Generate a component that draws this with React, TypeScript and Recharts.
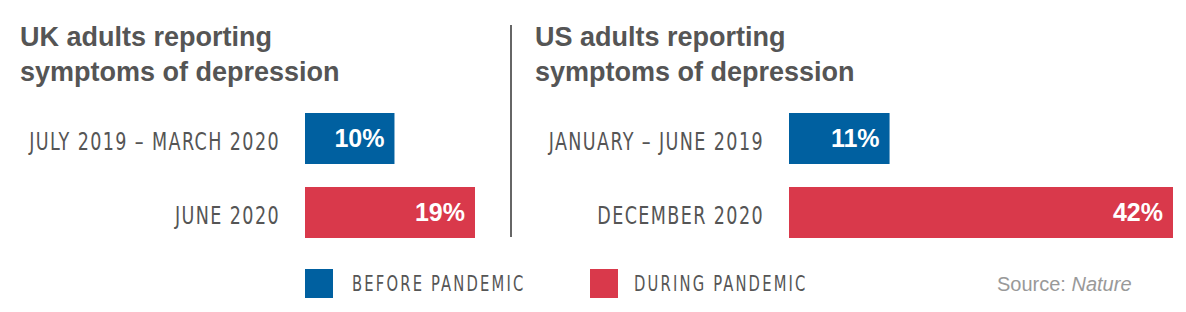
import { BarChart, Bar, XAxis, YAxis, Cell, LabelList } from 'recharts';

const ukPeriods = ['JULY 2019 – MARCH 2020', 'JUNE 2020'];
const ukValues = [10, 19];
const usPeriods = ['JANUARY – JUNE 2019', 'DECEMBER 2020'];
const usValues = [11, 42];
const phases = ['BEFORE PANDEMIC', 'DURING PANDEMIC'];

const PHASE_COLORS = ['#0060a0', '#d9394b'];
const TEXT = '#555555';
const NARROW = "'Liberation Sans Narrow', 'DejaVu Sans Condensed', sans-serif";
const SANS = "'Liberation Sans', Arial, sans-serif";
// no narrow display face installed, so squeeze the condensed one horizontally
const SQUEEZE = 0.78;

const ukData = ukPeriods.map((period, i) => ({ period, value: ukValues[i], phase: i }));
const usData = usPeriods.map((period, i) => ({ period, value: usValues[i], phase: i }));

function PeriodTick(props: any) {
  const { x, y, payload } = props;
  return (
    <g transform={`translate(${x},${y + 12}) scale(${SQUEEZE},1)`}>
      <text
        x={0}
        y={0}
        textAnchor="end"
        fill={TEXT}
        fontFamily={NARROW}
        fontSize={25}
        letterSpacing={1.8}
      >
        {payload.value}
      </text>
    </g>
  );
}

interface PanelProps {
  data: { period: string; value: number; phase: number }[];
  width: number;
  axisWidth: number;
  max: number;
  right: number;
}

function Panel({ data, width, axisWidth, max, right }: PanelProps) {
  return (
    <BarChart
      layout="vertical"
      width={width}
      height={148}
      data={data}
      margin={{ top: 0, right, bottom: 0, left: 0 }}
    >
      <XAxis type="number" hide domain={[0, max]} />
      <YAxis
        type="category"
        dataKey="period"
        width={axisWidth}
        axisLine={false}
        tickLine={false}
        tickSize={0}
        tickMargin={25}
        tick={<PeriodTick />}
      />
      <Bar dataKey="value" barSize={51} isAnimationActive={false}>
        {data.map((d, i) => (
          <Cell key={`cell-${i}`} fill={PHASE_COLORS[d.phase]} />
        ))}
        <LabelList
          dataKey="value"
          position="insideRight"
          offset={10}
          formatter={(v: any) => `${v}%`}
          fill="#ffffff"
          fontFamily={SANS}
          fontWeight="bold"
          fontSize={25}
        />
      </Bar>
    </BarChart>
  );
}

const titleStyle: React.CSSProperties = {
  position: 'absolute',
  top: 20,
  fontFamily: SANS,
  fontWeight: 'bold',
  fontSize: 27,
  lineHeight: '35px',
  color: TEXT,
};

export default function App() {
  return (
    <div
      style={{
        position: 'absolute',
        left: 0,
        top: 0,
        width: 1186,
        height: 312,
        background: '#ffffff',
      }}
    >
      <div style={{ ...titleStyle, left: 20 }}>
        UK adults reporting
        <br />
        symptoms of depression
      </div>
      <div style={{ ...titleStyle, left: 535 }}>
        US adults reporting
        <br />
        symptoms of depression
      </div>

      <div style={{ position: 'absolute', left: 510, top: 25, width: 2, height: 212, background: '#666' }} />

      <div style={{ position: 'absolute', left: 0, top: 101 }}>
        <Panel data={ukData} width={490} axisWidth={305} max={19} right={15} />
      </div>
      <div style={{ position: 'absolute', left: 520, top: 101 }}>
        <Panel data={usData} width={666} axisWidth={269} max={42} right={13} />
      </div>

      {phases.map((p, i) => (
        <div
          key={p}
          style={{
            position: 'absolute',
            left: i === 0 ? 305 : 590,
            top: 269,
            height: 29,
            display: 'flex',
            alignItems: 'center',
            whiteSpace: 'nowrap',
          }}
        >
          <div style={{ width: 28, height: 29, background: PHASE_COLORS[i] }} />
          <span
            style={{
              display: 'inline-block',
              marginLeft: i === 0 ? 19 : 16,
              fontFamily: NARROW,
              fontSize: 21,
              letterSpacing: 2.8,
              color: TEXT,
              lineHeight: '29px',
              paddingTop: 2,
              transform: `scaleX(${SQUEEZE})`,
              transformOrigin: 'left center',
            }}
          >
            {p}
          </span>
        </div>
      ))}

      <div
        style={{
          position: 'absolute',
          left: 997,
          top: 270,
          fontFamily: SANS,
          fontSize: 20,
          lineHeight: '29px',
          color: '#999999',
        }}
      >
        Source: <i>Nature</i>
      </div>
    </div>
  );
}
